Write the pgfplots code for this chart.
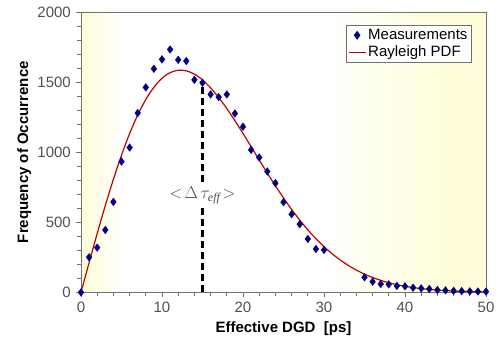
\documentclass[border=0pt]{standalone}
\usepackage{pgfplots}
\pgfplotsset{compat=1.18}
\usepackage{fontspec}
\setmainfont{Liberation Sans}
\newfontfamily\seriffont{Liberation Serif}
\definecolor{navymk}{HTML}{000080}
\definecolor{fitred}{HTML}{C00000}
\definecolor{bgyel}{HTML}{FFFED8}
\definecolor{axgray}{HTML}{707070}
\definecolor{txtgray}{HTML}{505050}
\pgfdeclarehorizontalshading{bgshade}{100bp}{color(0bp)=(bgyel); color(25bp)=(bgyel); color(30bp)=(white); color(55bp)=(white); color(71bp)=(bgyel); color(100bp)=(bgyel)}
\begin{document}
\fontsize{15bp}{18bp}\selectfont
\begin{tikzpicture}
\useasboundingbox (-81bp,-60.7bp) rectangle (419bp,292.3bp);
\begin{axis}[
  at={(0,0)}, anchor=south west,
  scale only axis, width=405bp, height=280.3bp,
  xmin=0, xmax=50, ymin=0, ymax=2000,
  xtick={0,10,...,50}, ytick={0,500,...,2000},
  minor x tick num=4, minor y tick num=4,
  tick align=outside, tick pos=left,
  major tick length=5bp, minor tick length=4bp,
  every tick/.style={axgray, line width=0.8pt},
  axis line style={axgray, line width=0.8pt},
  ticklabel style={font=\fontsize{15bp}{18bp}\selectfont, text=txtgray},
  /pgf/number format/assume math mode=true,
  /pgf/number format/1000 sep={},
  xlabel={\bfseries Effective DGD\ \ [ps]},
  ylabel={\bfseries Frequency of Occurrence},
  label style={font=\fontsize{15bp}{18bp}\selectfont},
  xlabel style={yshift=2bp},
  ylabel style={yshift=-4bp},
  axis background/.style={shading=bgshade},
  legend style={at={(0.965,0.955)}, anchor=north east, draw=axgray, line width=0.8pt, fill=white,
    font=\fontsize{15bp}{17bp}\selectfont, inner sep=2bp, row sep=0bp, cells={anchor=west}},
  legend cell align=left,
  clip=false,
]
\addplot[only marks, mark=diamond*, mark size=3.8bp, color=navymk] coordinates {
(0,0) (1,250) (2,319) (3,445) (4,645) (5,933) (6,1033) (7,1279) (8,1462) (9,1595)
(10,1662) (11,1733) (12,1659) (13,1650) (14,1516) (15,1495) (16,1412) (17,1393)
(18,1412) (19,1276) (20,1181) (21,1016) (22,962) (23,862) (24,779) (25,643)
(26,557) (27,486) (28,381) (29,309) (30,302)
(35,107) (36,76) (37,59) (38,57) (39,45) (40,43) (41,33) (42,28) (43,24) (44,16)
(45,14) (46,11) (47,9) (48,7) (49,6) (50,5)
};
\addlegendentry{Measurements}
\addplot[smooth, color=fitred, line width=1.2pt] coordinates {
(0,0) (1,211.8) (2,419.4) (3,618.8) (4,806.2) (5,978.2) (6,1132.0) (7,1265.1)
(8,1375.9) (9,1463.3) (10,1526.9) (11,1567.1) (12,1584.4) (13,1580.3) (14,1556.5)
(15,1515.3) (16,1459.0) (17,1389.9) (18,1311.0) (19,1224.6) (20,1133.1) (21,1039.1)
(22,944.4) (23,850.8) (24,760.1) (25,673.4) (26,591.8) (27,515.9) (28,446.0)
(29,382.5) (30,325.6) (31,275.0) (32,230.6) (33,191.7) (34,158.4) (35,129.8)
(36,105.6) (37,85.2) (38,68.3) (39,54.3) (40,42.9) (41,33.7) (42,26.2) (43,20.3)
(44,15.6) (45,11.9) (46,9.0) (47,6.7) (48,5.0) (49,3.7) (50,2.7)
};
\addlegendentry{Rayleigh PDF}
\addplot[black, line width=2.4pt, dash pattern=on 7bp off 4bp, forget plot] coordinates {(15,0) (15,1480)};
\draw[axgray, line width=0.8pt] (axis cs:0,2000) -- (axis cs:50,2000) -- (axis cs:50,0);
\node[fill=white, inner sep=1.5bp, text=txtgray, font=\fontsize{18bp}{20bp}\selectfont] at (axis cs:15,690) {$<\!\Delta\,\tau_{\mbox{\fontsize{12bp}{12bp}\seriffont\itshape eff}}\!>$};
\end{axis}
\end{tikzpicture}
\end{document}
